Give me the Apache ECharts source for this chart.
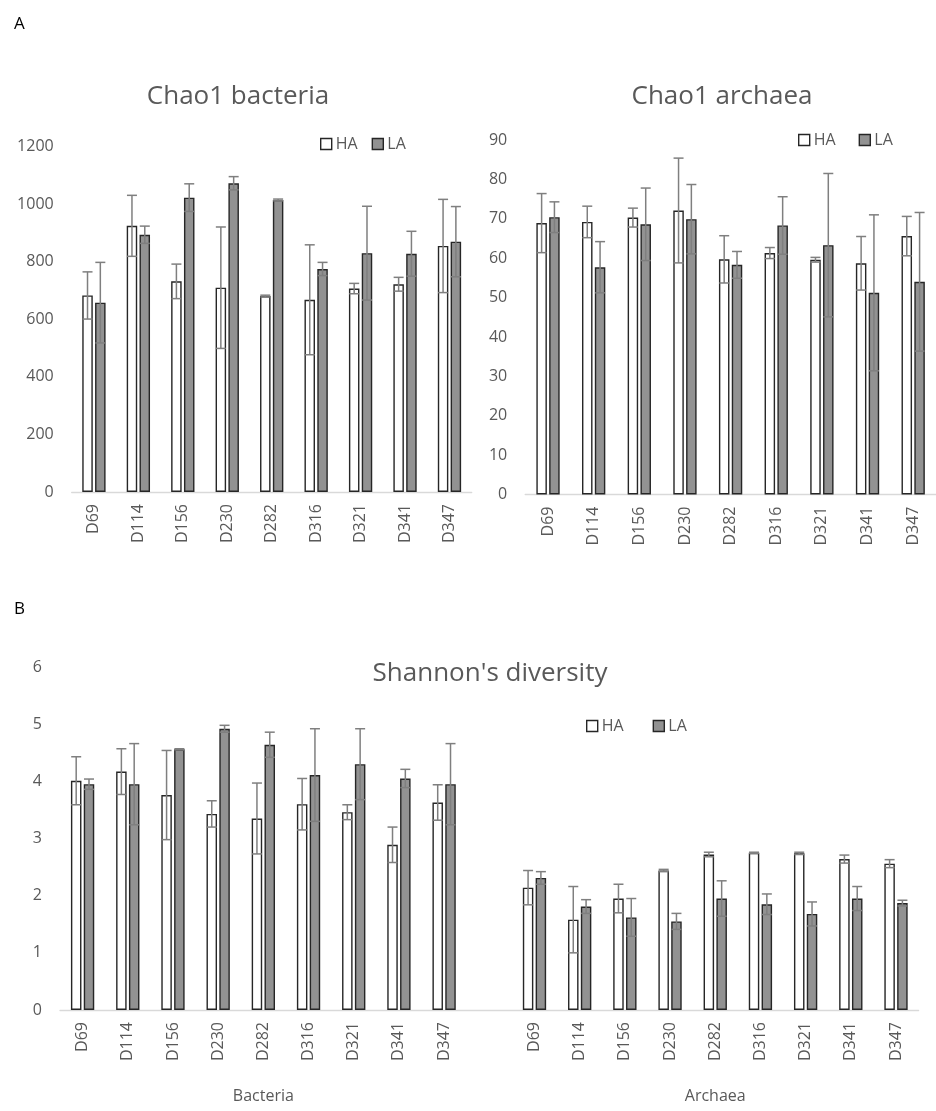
<!DOCTYPE html>
<html><head><meta charset="utf-8">
<script src="https://cdn.jsdelivr.net/npm/echarts@6/dist/echarts.min.js"></script>
<style>html,body{margin:0;padding:0;background:#fff}#c{width:936px;height:1111px}</style>
</head><body><div id="c"></div>
<script>
// ---- data ----
const categories = ['D69','D114','D156','D230','D282','D316','D321','D341','D347'];
const groupLabels = ['Bacteria','Archaea'];
const seriesNames = ['HA','LA'];

const chao1BactHA    = [683, 925, 732, 710, 681, 668, 707, 722, 855];
const chao1BactHAErr = [82, 106, 60, 211, 3, 191, 18, 24, 162];
const chao1BactLA    = [658, 894, 1023, 1073, 1015, 775, 830, 828, 870];
const chao1BactLAErr = [140, 30, 48, 23, 3, 23, 163, 78, 122];

const chao1ArchHA    = [68.9, 69.2, 70.3, 72.1, 59.7, 61.3, 59.6, 58.7, 65.6];
const chao1ArchHAErr = [7.5, 4.0, 2.4, 13.3, 6.0, 1.4, 0.6, 6.8, 5.0];
const chao1ArchLA    = [70.4, 57.7, 68.6, 69.9, 58.3, 68.3, 63.3, 51.2, 54.0];
const chao1ArchLAErr = [3.9, 6.5, 9.2, 8.8, 3.4, 7.3, 18.2, 19.8, 17.6];

const shannonBactHA    = [4.01, 4.17, 3.76, 3.43, 3.35, 3.60, 3.46, 2.89, 3.63];
const shannonBactHAErr = [0.42, 0.40, 0.78, 0.23, 0.62, 0.45, 0.13, 0.31, 0.31];
const shannonBactLA    = [3.95, 3.95, 4.56, 4.92, 4.64, 4.11, 4.30, 4.05, 3.95];
const shannonBactLAErr = [0.09, 0.71, 0.01, 0.06, 0.22, 0.81, 0.62, 0.16, 0.71];

const shannonArchHA    = [2.14, 1.58, 1.95, 2.44, 2.72, 2.75, 2.74, 2.64, 2.56];
const shannonArchHAErr = [0.30, 0.58, 0.25, 0.02, 0.04, 0.01, 0.02, 0.07, 0.07];
const shannonArchLA    = [2.31, 1.81, 1.62, 1.55, 1.95, 1.85, 1.68, 1.95, 1.87];
const shannonArchLAErr = [0.11, 0.12, 0.33, 0.14, 0.31, 0.18, 0.21, 0.21, 0.05];

// ---- styles ----
const FONT = 'Open Sans';
const GREY = '#595959';
const BAR_W = 10.5, BAR_GAP = 0.22;
const SHIFT = (BAR_W + BAR_W * BAR_GAP) / 2;
const CAP = 5;
const HA_COLOR = '#ffffff', LA_COLOR = '#929292';

// combined bottom axis: bacteria, empty spacer, archaea
const shannonCats = categories.concat([''], categories);
const shannonHA = shannonBactHA.concat([null], shannonArchHA);
const shannonLA = shannonBactLA.concat([null], shannonArchLA);
const shannonHAErr = shannonBactHAErr.concat([null], shannonArchHAErr);
const shannonLAErr = shannonBactLAErr.concat([null], shannonArchLAErr);
const groupCats = shannonCats.map(function(_, i){ return i === 4 ? groupLabels[0] : (i === 14 ? groupLabels[1] : ''); });

function bar(name, data, gi, color) {
  return { type: 'bar', name: name, data: data, xAxisIndex: gi, yAxisIndex: gi,
    barWidth: BAR_W, barGap: (BAR_GAP * 100) + '%',
    itemStyle: { color: color, borderColor: '#262626', borderWidth: 1.4 }, z: 2 };
}
function err(name, vals, errs, gi, sign) {
  const data = [];
  vals.forEach(function(v, i){ if (v != null && errs[i] != null) data.push([i, v - errs[i], v + errs[i]]); });
  return { type: 'custom', name: name, xAxisIndex: gi, yAxisIndex: gi, z: 5,
    encode: { x: 0, y: [1, 2] }, data: data,
    renderItem: function(params, api) {
      const i = api.value(0);
      const lo = api.coord([i, api.value(1)]);
      const hi = api.coord([i, api.value(2)]);
      const x = lo[0] + sign * SHIFT;
      const st = { stroke: '#7f7f7f', lineWidth: 1.5 };
      return { type: 'group', children: [
        { type: 'line', shape: { x1: x, y1: hi[1], x2: x, y2: lo[1] }, style: st },
        { type: 'line', shape: { x1: x - CAP, y1: hi[1], x2: x + CAP, y2: hi[1] }, style: st },
        { type: 'line', shape: { x1: x - CAP, y1: lo[1], x2: x + CAP, y2: lo[1] }, style: st }
      ]};
    } };
}
function xAx(gi, data) {
  return { type: 'category', gridIndex: gi, data: data,
    axisLine: { lineStyle: { color: '#d9d9d9', width: 1.3 } }, axisTick: { show: false },
    axisLabel: { rotate: 90, interval: 0, margin: 12, color: GREY, fontSize: 16, fontFamily: FONT } };
}
function yAx(gi, max, interval) {
  return { type: 'value', gridIndex: gi, min: 0, max: max, interval: interval,
    axisLine: { show: false }, axisTick: { show: false }, splitLine: { show: false },
    axisLabel: { margin: 18, color: GREY, fontSize: 16, fontFamily: FONT,
      formatter: function(v){ return String(v); } } };
}
function leg(left, top, gap) {
  return { left: left, top: top, data: seriesNames, icon: 'rect', itemWidth: 11, itemHeight: 11, itemGap: gap,
    itemStyle: { borderColor: '#262626', borderWidth: 1.4 },
    textStyle: { color: GREY, fontSize: 16, fontFamily: FONT, padding: [0,0,0,-1] } };
}
function ttl(text, left, top) {
  return { text: text, left: left, top: top, textAlign: 'center',
    textStyle: { color: GREY, fontSize: 26, fontWeight: 'normal', fontFamily: FONT } };
}

const chart = echarts.init(document.getElementById('c'), null, { renderer: 'canvas' });
chart.setOption({
  animation: false,
  backgroundColor: '#fff',
  title: [
    { text: 'A', left: 9, top: 11, textStyle: { color: '#000', fontSize: 17, fontWeight: 'normal', fontFamily: FONT } },
    { text: 'B', left: 9, top: 596, textStyle: { color: '#000', fontSize: 17, fontWeight: 'normal', fontFamily: FONT } },
    ttl('Chao1 bacteria', 233, 79),
    ttl('Chao1 archaea', 717, 79),
    ttl("Shannon's diversity", 485, 656)
  ],
  legend: [ leg(315, 131, 14), leg(793, 127, 23), leg(581, 713, 29) ],
  grid: [
    { left: 71.7, top: 146.7, width: 400, height: 345.3 },
    { left: 525.2, top: 140, width: 416, height: 354.5 },
    { left: 60, top: 667, width: 858.6, height: 343 }
  ],
  xAxis: [ xAx(0, categories), xAx(1, categories), xAx(2, shannonCats),
    { type: 'category', gridIndex: 2, position: 'bottom', offset: 78, data: groupCats,
      axisLine: { show: false }, axisTick: { show: false },
      axisLabel: { interval: 0, margin: 0, color: GREY, fontSize: 16, fontFamily: FONT } } ],
  yAxis: [ yAx(0, 1200, 200), yAx(1, 90, 10), yAx(2, 6, 1) ],
  series: [
    bar('HA', chao1BactHA, 0, HA_COLOR), bar('LA', chao1BactLA, 0, LA_COLOR),
    err('HA err', chao1BactHA, chao1BactHAErr, 0, -1), err('LA err', chao1BactLA, chao1BactLAErr, 0, 1),
    bar('HA', chao1ArchHA, 1, HA_COLOR), bar('LA', chao1ArchLA, 1, LA_COLOR),
    err('HA err', chao1ArchHA, chao1ArchHAErr, 1, -1), err('LA err', chao1ArchLA, chao1ArchLAErr, 1, 1),
    bar('HA', shannonHA, 2, HA_COLOR), bar('LA', shannonLA, 2, LA_COLOR),
    err('HA err', shannonHA, shannonHAErr, 2, -1), err('LA err', shannonLA, shannonLAErr, 2, 1)
  ]
});
</script></body></html>
